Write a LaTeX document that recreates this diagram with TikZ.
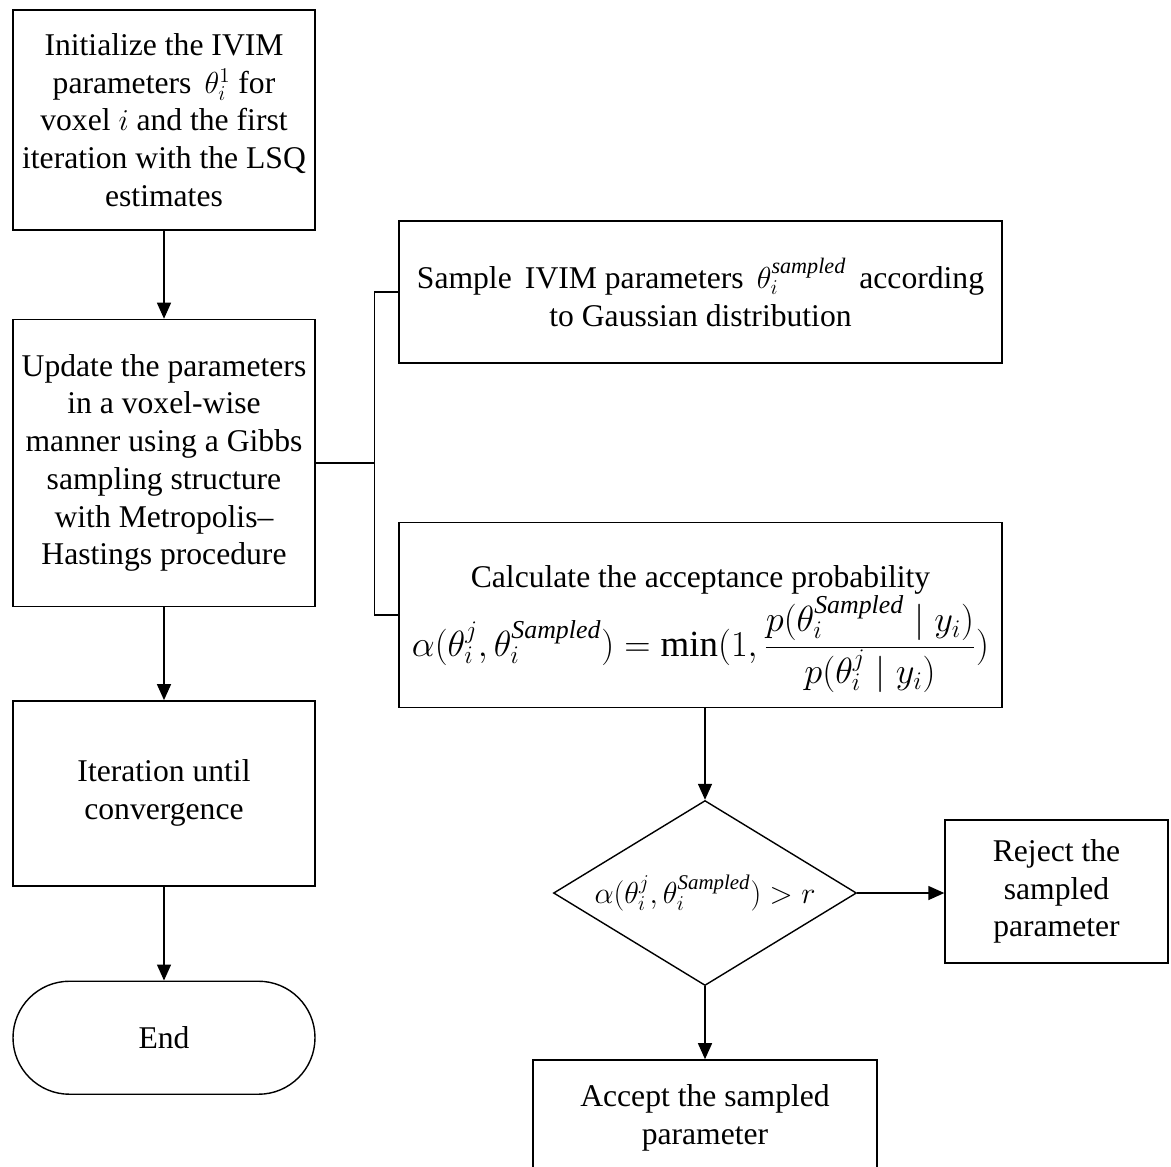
\documentclass[tikz,border=0pt]{standalone}
\usepackage{fontspec}
\setmainfont{Liberation Serif}
\usetikzlibrary{arrows.meta,positioning,shapes.geometric}

\tikzset{
  stepbox/.style={draw, line width=0.8pt, align=center, inner sep=2pt,
    minimum width=6.04cm, font=\fontsize{18}{21.5}\selectfont},
  widebox/.style={stepbox, minimum width=12.06cm},
  decision/.style={draw, line width=0.8pt, shape=diamond, shape aspect=1.64,
    inner sep=0pt, minimum width=6.06cm, minimum height=3.7cm,
    font=\fontsize{17}{20}\selectfont},
  arr/.style={-{Triangle[length=0.32cm,width=0.28cm]}, line width=0.8pt},
  link/.style={line width=0.8pt}
}
\newcommand{\Smp}{\mathit{Sampled}}

\begin{document}
\begin{tikzpicture}[node distance=1.8cm]
    \useasboundingbox (0,0) rectangle (23.42,-23.32);
    % left column
    \node[stepbox, minimum height=4.4cm] (init) at (3.28,-2.40)
        {Initialize the IVIM\\ parameters \,$\theta_i^1$ for\\ voxel $i$ and the first\\ iteration with the LSQ\\ estimates};
    \node[stepbox, minimum height=5.74cm] (update) [below=1.76cm of init]
        {Update the parameters\\ in a voxel-wise\\ manner using a Gibbs\\ sampling structure\\ with Metropolis--\\ Hastings procedure};
    \node[stepbox, minimum height=3.7cm] (iter) [below=1.86cm of update]
        {Iteration until\\ convergence};
    \node[stepbox, minimum height=2.26cm, rounded corners=1.13cm] (end) [below=1.88cm of iter] {End};

    % right column
    \node[widebox, minimum height=2.84cm] (sample) at (14.01,-5.84)
        {Sample \,IVIM parameters \,$\theta_i^{\mathit{sampled}}$\, according\\ to Gaussian distribution};
    \node[widebox, minimum height=3.7cm] (calc) [below=3.16cm of sample]
        {\rule{0pt}{1cm}Calculate the acceptance probability\\[0pt]
         \fontsize{21}{24}\selectfont
         $\displaystyle \alpha(\theta_i^j,\theta_i^{\Smp})=\min(1,\frac{p(\theta_i^{\Smp}\mid y_i)}{p(\theta_i^j\mid y_i)})$};
    \node[decision] (test) at (14.10,-17.86) {$\alpha(\theta_i^j,\theta_i^{\Smp})>r$};
    \node[stepbox, minimum width=4.46cm, minimum height=2.86cm] (reject) at (21.13,-17.83)
        {Reject the\\ sampled\\ parameter};
    \node[stepbox, minimum width=6.88cm, minimum height=2.32cm] (accept) [below=1.46cm of test]
        {Accept the sampled\\ parameter};

    \path (update.east) ++(1.18,0) coordinate (fork);

    \draw[arr] (init) -- (update);
    \draw[arr] (update) -- (iter);
    \draw[arr] (iter) -- (end);
    \draw[link] (update.east) -- (fork);
    \draw[link] (sample.west) -| (fork) |- (calc.west);
    \draw[arr] (calc.south -| test.north) -- (test.north);
    \draw[arr] (test.east) -- (test.east -| reject.west);
    \draw[arr] (test.south) -- (accept.north);
\end{tikzpicture}
\end{document}
